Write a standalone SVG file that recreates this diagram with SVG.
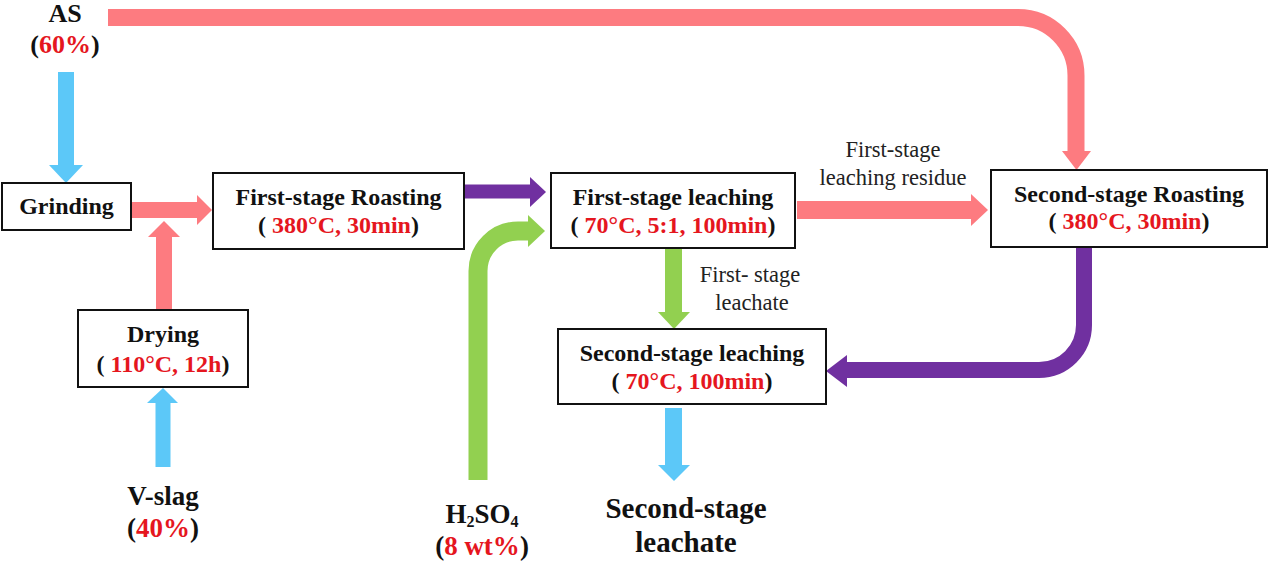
<svg xmlns="http://www.w3.org/2000/svg" width="1269" height="567" viewBox="0 0 1269 567">
<style>
.box{fill:#fff;stroke:#111;stroke-width:2}
.t{font-family:"Liberation Serif","DejaVu Serif",serif;font-weight:bold;fill:#111;text-anchor:middle}
.bt{font-size:24px}
.lb{font-family:"Liberation Serif","DejaVu Serif",serif;font-size:22.5px;fill:#222;text-anchor:middle}
.big{font-size:27px}
.r{fill:#e5161e}
.band{fill:none;stroke-linecap:butt;stroke-linejoin:round}
.pk{stroke:#fd7b80}.pkf{fill:#fd7b80}
.bl{stroke:#5cc8f8}.blf{fill:#5cc8f8}
.pu{stroke:#7030a0}.puf{fill:#7030a0}
.gr{stroke:#92d050}.grf{fill:#92d050}
</style>
<rect width="1269" height="567" fill="#fff"/>
<g id="connectors">
  <path class="band pk" stroke-width="17" d="M108,17.5 H1018 A58,58 0 0 1 1076,75.5 V153"/>
  <polygon class="pkf" points="1062,151 1091,151 1076.5,170"/>
  <path class="band bl" stroke-width="16" d="M66,72 V166"/>
  <polygon class="blf" points="49,165 83,165 66,183"/>
  <path class="band pk" stroke-width="16" d="M132,210 H198"/>
  <polygon class="pkf" points="197,195 197,225 212,210"/>
  <path class="band pk" stroke-width="16" d="M164,310 V236"/>
  <polygon class="pkf" points="148,237 180,237 164,221"/>
  <path class="band bl" stroke-width="15" d="M163,467 V402"/>
  <polygon class="blf" points="147,403 178,403 163,388"/>
  <path class="band pu" stroke-width="14" d="M463,191.5 H531"/>
  <polygon class="puf" points="530,177 530,207 546,192"/>
  <path class="band gr" stroke-width="19" d="M478,480 V271 A40,40 0 0 1 518,231 H529"/>
  <polygon class="grf" points="528,215 528,247 545,231"/>
  <path class="band pk" stroke-width="18" d="M797,210 H972"/>
  <polygon class="pkf" points="971,194 971,226 988,210"/>
  <path class="band gr" stroke-width="17" d="M673.5,249 V313"/>
  <polygon class="grf" points="658,312 690,312 674,329"/>
  <path class="band pu" stroke-width="16" d="M1084,248 V325 A45,45 0 0 1 1039,370 H846"/>
  <polygon class="puf" points="847,355 847,387 826,371"/>
  <path class="band bl" stroke-width="17" d="M673.5,408 V466"/>
  <polygon class="blf" points="658,465 690,465 674,481"/>
</g>
<g id="as">
  <text class="t" x="65" y="22" font-size="26">AS</text>
  <text class="t" x="65" y="53" font-size="26">(<tspan class="r">60%</tspan>)</text>
</g>
<g id="grinding">
  <rect class="box" x="2" y="183" width="129" height="47"/>
  <text class="t bt" x="66.5" y="214">Grinding</text>
</g>
<g id="roasting1">
  <rect class="box" x="213" y="173" width="251" height="76"/>
  <text class="t bt" x="338.5" y="205">First-stage Roasting</text>
  <text class="t bt" x="338.5" y="233">( <tspan class="r">380°C, 30min</tspan>)</text>
</g>
<g id="leaching1">
  <rect class="box" x="551" y="173" width="244" height="75"/>
  <text class="t bt" x="673" y="205">First-stage leaching</text>
  <text class="t bt" x="673" y="233">( <tspan class="r">70°C, 5:1, 100min</tspan>)</text>
</g>
<g id="residue-label">
  <text class="lb" x="893" y="157">First-stage</text>
  <text class="lb" x="893" y="185">leaching residue</text>
</g>
<g id="roasting2">
  <rect class="box" x="991" y="170" width="276" height="77"/>
  <text class="t bt" x="1129" y="202">Second-stage Roasting</text>
  <text class="t bt" x="1129" y="229">( <tspan class="r">380°C, 30min</tspan>)</text>
</g>
<g id="leachate-label">
  <text class="lb" x="750" y="282">First- stage</text>
  <text class="lb" x="752" y="310">leachate</text>
</g>
<g id="leaching2">
  <rect class="box" x="558" y="329" width="268" height="75"/>
  <text class="t bt" x="692" y="361">Second-stage leaching</text>
  <text class="t bt" x="692" y="389">( <tspan class="r">70°C, 100min</tspan>)</text>
</g>
<g id="drying">
  <rect class="box" x="78" y="310" width="170" height="77"/>
  <text class="t bt" x="163" y="342">Drying</text>
  <text class="t bt" x="163" y="372">( <tspan class="r">110°C, 12h</tspan>)</text>
</g>
<g id="vslag">
  <text class="t big" x="163" y="505">V-slag</text>
  <text class="t big" x="163" y="537">(<tspan class="r">40%</tspan>)</text>
</g>
<g id="h2so4">
  <text class="t big" x="482" y="523">H<tspan font-size="16" baseline-shift="-4">2</tspan>SO<tspan font-size="16" baseline-shift="-4">4</tspan></text>
  <text class="t big" x="482" y="555">(<tspan class="r">8 wt%</tspan>)</text>
</g>
<g id="second-leachate">
  <text class="t" x="686" y="518" font-size="29">Second-stage</text>
  <text class="t" x="686" y="552" font-size="29">leachate</text>
</g>
</svg>
